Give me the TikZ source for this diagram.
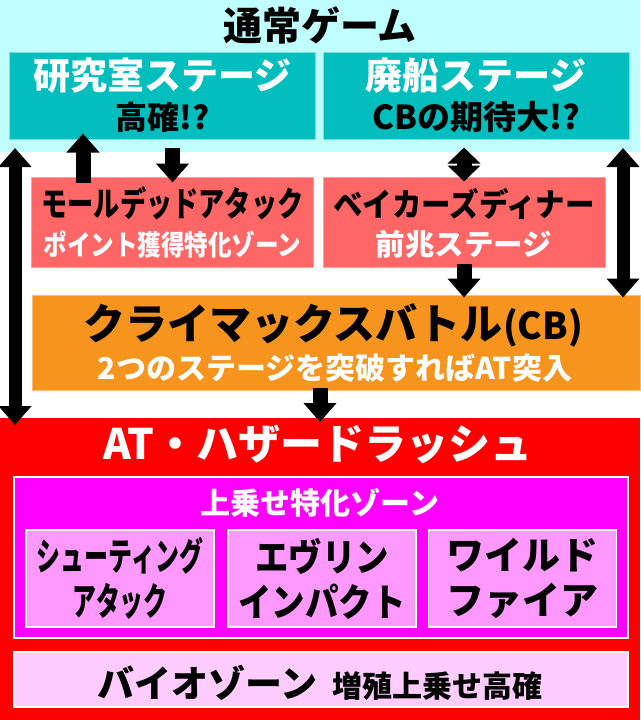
\documentclass[tikz,border=0pt]{standalone}
\usepackage{fontspec}
\setmainfont{Noto Sans CJK JP}
\usepackage{graphicx}
\usetikzlibrary{positioning, calc, arrows.meta}

\definecolor{skycyan}{RGB}{192,255,255}
\definecolor{stagecol}{RGB}{0,190,190}
\definecolor{stageedge}{RGB}{120,225,225}
\definecolor{introcol}{RGB}{255,102,102}
\definecolor{introedge}{RGB}{255,160,160}
\definecolor{battlecol}{RGB}{246,148,30}
\definecolor{battleedge}{RGB}{250,190,120}
\definecolor{rushcol}{RGB}{255,0,0}
\definecolor{bonuscol}{RGB}{255,0,255}
\definecolor{specialcol}{RGB}{255,153,255}
\definecolor{biocol}{RGB}{255,204,255}

\newcommand{\fs}[1]{\fontsize{#1}{#1}\selectfont}
\newcommand{\squeezed}[2]{\scalebox{#1}[1]{#2}}

\tikzstyle{band} = [rectangle, inner sep=0pt, outer sep=0pt]
\tikzstyle{stage} = [rectangle, minimum width=306pt, minimum height=87pt, fill=stagecol, draw=stageedge, line width=1pt]
\tikzstyle{intro} = [rectangle, minimum width=282pt, minimum height=90pt, fill=introcol, draw=introedge, line width=1pt]
\tikzstyle{battle} = [rectangle, minimum width=608pt, minimum height=95pt, fill=battlecol, draw=battleedge, line width=1pt]
\tikzstyle{zone} = [rectangle, minimum width=614pt, draw=white, line width=1.5pt]
\tikzstyle{special} = [rectangle, minimum width=188pt, minimum height=97pt, fill=specialcol, draw=white, line width=1.5pt, align=center, inner sep=0pt, font=\bfseries\fontsize{38}{45}\selectfont]
\tikzstyle{txt} = [inner sep=0pt]
\tikzstyle{arrow} = [line width=15pt, -{Triangle[width=32pt,length=19pt]}]
\tikzstyle{twoway} = [line width=13pt, {Triangle[width=32pt,length=19pt]}-{Triangle[width=32pt,length=19pt]}]
\tikzstyle{shorttwo} = [line width=15pt, {Triangle[width=32pt,length=16pt]}-{Triangle[width=32pt,length=16pt]}]

\begin{document}
\begin{tikzpicture}[x=1pt, y=-1pt]
        \useasboundingbox (0,0) rectangle (640,720);
        \node (normal) [band, fill=skycyan, minimum width=640pt, minimum height=152pt] at (320,76) {};
        \node (normaltxt) [txt, font=\bfseries\fs{39}] at (320,25) {通常ゲーム};
        \node (lab) [stage] at (162.5,95.5) {};
        \node (labtxt) [txt, font=\bfseries\fs{37}, text=white] at (162.5,76) {研究室ステージ};
        \node (labsub) [txt, font=\bfseries\fs{32}] at (162.5,117) {高確!?};
        \node (ship) [stage] at (476.5,95.5) {};
        \node (shiptxt) [txt, font=\bfseries\fs{37}, text=white] at (476,76) {廃船ステージ};
        \node (shipsub) [txt, font=\bfseries\fs{33}] at (476,117) {CBの期待大!?};
        \node (mold) [intro] at (172.5,222) {};
        \node (moldtxt) [txt, font=\bfseries\fs{34}] at (172.5,203) {\squeezed{0.77}{モールデッドアタック}};
        \node (moldsub) [txt, font=\bfseries\fs{28}, text=white] at (172.5,245) {\squeezed{0.84}{ポイント獲得特化ゾーン}};
        \node (baker) [intro] at (464,222) {};
        \node (bakertxt) [txt, font=\bfseries\fs{32}] at (464,204) {\squeezed{0.92}{ベイカーズディナー}};
        \node (bakersub) [txt, font=\bfseries\fs{29.5}, text=white] at (464,244) {前兆ステージ};
        \node (climax) [battle] at (336,342.5) {};
        \node (climaxtxt) [txt, font=\bfseries\fs{42}] at (333,325) {クライマックスバトル{\fs{37}(CB)}};
        \node (climaxsub) [txt, font=\bfseries\fs{30}, text=white] at (335,368) {2つのステージを突破すればAT突入};
        \node (rush) [band, fill=rushcol, minimum width=640pt, minimum height=302pt] at (320,569) {};
        \node (rushtxt) [txt, font=\bfseries\fs{42}, text=white] at (318,444) {AT・ハザードラッシュ};
        \node (bonus) [zone, fill=bonuscol, minimum height=161pt] at (321,557.5) {};
        \node (bonustxt) [txt, font=\bfseries\fs{30}, text=white] at (320,503) {上乗せ特化ゾーン};
        \node (shoot) [special] at (120,578.5) {\squeezed{0.63}{シューティング}\\\squeezed{0.63}{アタック}};
        \node (evelyn) [special] at (322,578.5) {\squeezed{0.88}{エヴリン}\\\squeezed{0.88}{インパクト}};
        \node (wild) [special] at (522.5,578.5) {ワイルド\\ファイア};
        \node (bio) [zone, fill=biocol, minimum height=55pt] at (321,679.5) {};
        \node (biotxt) [txt, font=\bfseries] at (320,683) {{\fs{37}バイオゾーン}\hspace{15pt}{\fs{30}増殖上乗せ高確}};
        \draw [arrow] ($(mold.north west)+(52,6)$) -- ($(mold.north west |- lab.south)+(52,-6)$);
        \draw [arrow] ($(lab.south -| mold.north)+(0,8)$) -- ($(mold.north)+(0,6)$);
        \draw [shorttwo] ($(ship.south -| baker.north)+(0,8)$) -- ($(baker.north)+(0,5)$);
        \draw [arrow] ($(baker.south)+(0,-4)$) -- ($(baker.south |- climax.north)+(0,3)$);
        \draw [twoway] ($(normal.south east)+(-17,-4)$) -- ($(normal.south east |- climax.north)+(-17,3)$);
        \draw [twoway] ($(normal.south west)+(15,-4)$) -- ($(rush.north west)+(15,7)$);
        \draw [arrow] ($(climax.south -| rush.north)+(0,-3)$) -- ($(rush.north)+(0,4)$);
    \end{tikzpicture}
\end{document}
